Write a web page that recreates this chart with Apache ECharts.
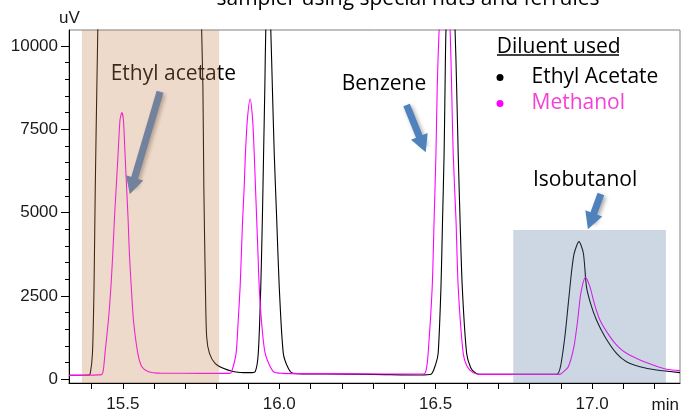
<!DOCTYPE html>
<html>
<head>
<meta charset="utf-8">
<script src="https://cdn.jsdelivr.net/npm/echarts@6/dist/echarts.min.js"></script>
<style>
html, body { margin: 0; padding: 0; background: #fff; }
#chart { width: 681px; height: 414px; }
</style>
</head>
<body>
<div id="chart"></div>
<script>
// retention time (min) , signal (uV) -- sample diluted in ethyl acetate
var ethylAcetateTrace = [
    [15.328,120],[15.390,125],[15.396,180],[15.403,780],[15.408,2780],[15.412,5780],[15.417,8780],[15.420,10480],
    [15.424,14000],[15.747,14000],[15.752,10480],[15.756,8780],[15.759,5780],[15.764,2780],[15.768,1280],[15.777,780],
    [15.795,480],[15.821,330],[15.852,235],[15.875,205],[15.905,200],[15.923,230],[15.933,780],[15.941,2780],
    [15.946,4780],[15.950,6780],[15.954,8780],[15.957,10480],[15.965,12500],[15.973,10480],[15.978,8780],[15.984,6780],
    [15.992,4780],[16.000,2780],[16.013,780],[16.029,330],[16.044,180],[16.150,160],[16.300,150],[16.450,130],
    [16.485,150],[16.500,450],[16.508,780],[16.517,2780],[16.522,4780],[16.527,6780],[16.530,8780],[16.533,10480],
    [16.547,13500],[16.562,10480],[16.567,8780],[16.572,6780],[16.578,4780],[16.585,2780],[16.599,780],[16.612,350],
    [16.626,200],[16.640,150],[16.800,150],[16.887,150],[16.899,380],[16.913,1280],[16.924,2280],[16.935,3280],
    [16.943,3790],[16.958,4130],[16.972,3790],[16.982,2780],[16.995,2280],[17.014,1780],[17.041,1280],[17.078,780],
    [17.110,530],[17.153,380],[17.206,280],[17.281,200]
];
// same sample diluted in methanol
var methanolTrace = [
    [15.328,120],[15.432,140],[15.438,300],[15.443,780],[15.454,1780],[15.462,2780],[15.468,3780],[15.473,4780],
    [15.479,5780],[15.485,6780],[15.491,7780],[15.497,8000],[15.502,7780],[15.507,6780],[15.512,5780],[15.517,4780],
    [15.521,3780],[15.527,2780],[15.534,1780],[15.548,780],[15.561,380],[15.582,230],[15.620,185],[15.750,180],
    [15.842,180],[15.848,230],[15.862,780],[15.869,1780],[15.875,2780],[15.879,3780],[15.883,4780],[15.888,5780],
    [15.892,6780],[15.898,7780],[15.907,8410],[15.915,7780],[15.920,6780],[15.924,5780],[15.928,4780],[15.932,3780],
    [15.936,2780],[15.943,1780],[15.955,780],[15.981,230],[16.010,180],[16.150,170],[16.300,160],[16.462,160],
    [16.470,300],[16.476,780],[16.489,2780],[16.495,4780],[16.501,6780],[16.505,8780],[16.511,10480],[16.528,13500],
    [16.546,10480],[16.551,8780],[16.556,6780],[16.565,4780],[16.572,2780],[16.588,780],[16.600,400],[16.619,200],
    [16.640,150],[16.800,150],[16.897,150],[16.905,200],[16.924,380],[16.942,980],[16.954,1780],[16.964,2580],
    [16.979,3060],[16.993,2780],[17.007,2280],[17.025,1780],[17.057,1280],[17.083,980],[17.110,780],[17.153,580],
    [17.195,430],[17.238,300],[17.281,260]
];

var xMin = 15.328, xMax = 17.281;
var yMin = -110, yMax = 10480;
var xTickValues = [15.4,15.5,15.6,15.7,15.8,15.9,16.0,16.1,16.2,16.3,16.4,16.5,16.6,16.7,16.8,16.9,17.0,17.1,17.2];
var xLabelValues = [15.5,16.0,16.5,17.0];
var yLabelValues = [0,2500,5000,7500,10000];
var yMinorValues = [500,1000,1500,2000,3000,3500,4000,4500,5500,6000,6500,7000,8000,8500,9000,9500];

// shaded regions: [x from, x to, y top]
var solventBox = [15.369, 15.808, yMax];
var isobutanolBox = [16.748, 17.236, 4480];

// arrows: [x tail, y tail, x tip, y tip]
var ethylArrow = [15.619, 8630, 15.530, 5800];
var benzeneArrow = [16.407, 8230, 16.458, 7050];
var isobutanolArrow = [17.028, 5560, 16.996, 4740];

var chart = echarts.init(document.getElementById('chart'));

function arrow(a, color) {
    return [
        { coord: [a[0], a[1]], lineStyle: { color: color } },
        { coord: [a[2], a[3]], lineStyle: { color: color } }
    ];
}

var labelFont = { fontFamily: 'Liberation Sans', fontSize: 17, color: '#1a1a1a' };

var option = {
    animation: false,
    grid: {
        left: 69, right: 1, top: 30, bottom: 31,
        show: true, borderColor: '#808080', borderWidth: 1
    },
    legend: {
        orient: 'vertical',
        left: 491.5, top: 62,
        padding: 5,
        itemWidth: 53, itemHeight: 7, itemGap: 5,
        icon: 'circle',
        selectedMode: false,
        textStyle: { fontFamily: 'Open Sans', fontSize: 21, lineHeight: 21, width: 135, overflow: 'none', color: '#000' },
        data: [
            { name: 'Ethyl Acetate' },
            { name: 'Methanol', textStyle: { color: '#f53fd6' } }
        ]
    },
    xAxis: {
        type: 'value', min: xMin, max: xMax,
        axisLine: { show: true, onZero: false, lineStyle: { color: '#000', width: 1 } },
        axisTick: { show: true, length: 6, customValues: xTickValues, lineStyle: { color: '#000' } },
        axisLabel: Object.assign({
            customValues: xLabelValues, margin: 13,
            formatter: function (v) { return v.toFixed(1); }
        }, labelFont),
        splitLine: { show: false }
    },
    yAxis: [{
        type: 'value', min: yMin, max: yMax,
        axisLine: { show: true, onZero: false, lineStyle: { color: '#000', width: 1 } },
        axisTick: { show: true, length: 8, customValues: yLabelValues, lineStyle: { color: '#000' } },
        axisLabel: Object.assign({
            customValues: yLabelValues, margin: 11,
            formatter: function (v) { return String(v); }
        }, labelFont),
        splitLine: { show: false }
    }, {
        // minor ticks only
        type: 'value', min: yMin, max: yMax, position: 'left', offset: 0,
        axisLine: { show: false },
        axisTick: { show: true, length: 4, customValues: yMinorValues, lineStyle: { color: '#000' } },
        axisLabel: { show: false },
        splitLine: { show: false }
    }],
    series: [{
        name: 'Ethyl Acetate',
        type: 'line',
        data: ethylAcetateTrace,
        symbol: 'none',
        smooth: 0.25,
        z: 2,
        lineStyle: { color: '#000', width: 1.1 },
        itemStyle: { color: '#000' }
    }, {
        name: 'Methanol',
        type: 'line',
        data: methanolTrace,
        symbol: 'none',
        smooth: 0.25,
        z: 3,
        lineStyle: { color: '#ff00ff', width: 1.1 },
        itemStyle: { color: '#ff00ff' }
    }, {
        name: 'arrows',
        type: 'line',
        data: [],
        z: 4,
        markLine: {
            silent: true,
            z: 4,
            symbol: ['none', 'triangle'],
            symbolSize: [18, 17],
            label: { show: false },
            lineStyle: {
                type: 'solid', width: 7, opacity: 1,
                shadowBlur: 4, shadowColor: 'rgba(0,0,0,0.35)', shadowOffsetX: 2, shadowOffsetY: 2
            },
            data: [
                arrow(ethylArrow, '#4f81bd'),
                arrow(benzeneArrow, '#4f81bd'),
                arrow(isobutanolArrow, '#4f81bd')
            ]
        }
    }, {
        name: 'regions',
        type: 'line',
        data: [],
        z: 10,
        markArea: {
            silent: true,
            z: 10,
            data: [
                [{ xAxis: solventBox[0], yAxis: yMin, itemStyle: { color: 'rgba(195,132,78,0.3)' } },
                 { xAxis: solventBox[1], yAxis: solventBox[2] }],
                [{ xAxis: isobutanolBox[0], yAxis: yMin, itemStyle: { color: 'rgba(88,122,162,0.3)' } },
                 { xAxis: isobutanolBox[1], yAxis: isobutanolBox[2] }]
            ]
        }
    }],
    graphic: [
        { type: 'text', z: 4, x: 408, y: -1,
          style: { text: 'sampler using special nuts and ferrules', fontFamily: 'Open Sans', fontSize: 21, fill: '#000', align: 'center', verticalAlign: 'middle' } },
        { type: 'text', z: 4, x: 59, y: 18,
          style: { text: 'uV', fontFamily: 'Liberation Sans', fontSize: 17, fill: '#1a1a1a', align: 'left', verticalAlign: 'middle' } },
        { type: 'text', z: 4, x: 679, y: 405,
          style: { text: 'min', fontFamily: 'Liberation Sans', fontSize: 17, fill: '#1a1a1a', align: 'right', verticalAlign: 'middle' } },
        { type: 'text', z: 4, x: 110.7, y: 74.5,
          style: { text: 'Ethyl acetate', fontFamily: 'Open Sans', fontSize: 21, fill: '#000', align: 'left', verticalAlign: 'middle' } },
        { type: 'text', z: 4, x: 341.7, y: 84,
          style: { text: 'Benzene', fontFamily: 'Open Sans', fontSize: 21, fill: '#000', align: 'left', verticalAlign: 'middle' } },
        { type: 'text', z: 4, x: 533, y: 180,
          style: { text: 'Isobutanol', fontFamily: 'Open Sans', fontSize: 21, fill: '#000', align: 'left', verticalAlign: 'middle' } },
        { type: 'text', z: 4, x: 496.7, y: 46.7,
          style: { text: 'Diluent used', fontFamily: 'Open Sans', fontSize: 21, fill: '#000', align: 'left', verticalAlign: 'middle' } },
        { type: 'line', z: 4, shape: { x1: 497, y1: 55, x2: 619, y2: 55 }, style: { stroke: '#000', lineWidth: 1.5 } }
    ]
};

chart.setOption(option);
</script>
</body>
</html>
